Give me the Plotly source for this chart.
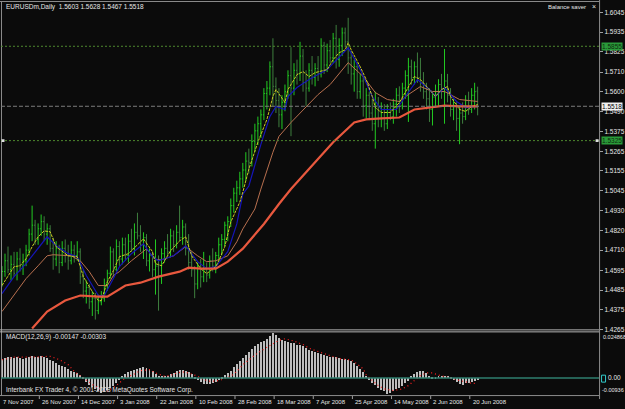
import plotly.graph_objects as go

W, H = 625, 409

# ---------------- price data (EURUSDm, Daily) ----------------
opens = [1.4530,1.4590,1.4650,1.4600,1.4630,1.4580,1.4660,1.4620,1.4650,1.4710,
         1.4800,1.4850,1.4770,1.4830,1.4870,1.4800,1.4830,1.4720,1.4660,1.4720,
         1.4640,1.4720,1.4680,1.4650,1.4710,1.4680,1.4700,1.4560,1.4480,1.4500,
         1.4420,1.4440,1.4370,1.4420,1.4440,1.4520,1.4580,1.4700,1.4600,1.4730,
         1.4660,1.4740,1.4680,1.4760,1.4720,1.4810,1.4790,1.4740,1.4780,1.4650,
         1.4680,1.4600,1.4620,1.4560,1.4690,1.4720,1.4700,1.4790,1.4740,1.4810,
         1.4780,1.4840,1.4720,1.4640,1.4600,1.4520,1.4620,1.4560,1.4600,1.4570,
         1.4650,1.4620,1.4680,1.4740,1.4770,1.4850,1.4870,1.4960,1.5030,1.5060,
         1.5110,1.5160,1.5210,1.5200,1.5320,1.5380,1.5420,1.5470,1.5590,1.5620,
         1.5740,1.5630,1.5550,1.5470,1.5540,1.5600,1.5690,1.5620,1.5720,1.5700,
         1.5800,1.5650,1.5620,1.5720,1.5680,1.5730,1.5700,1.5860,1.5750,1.5830,
         1.5790,1.5900,1.5780,1.5860,1.5930,1.5880,1.5790,1.5700,1.5740,1.5600,
         1.5660,1.5520,1.5580,1.5480,1.5420,1.5520,1.5450,1.5500,1.5420,1.5500,
         1.5460,1.5530,1.5580,1.5520,1.5620,1.5690,1.5740,1.5680,1.5740,1.5680,
         1.5650,1.5600,1.5560,1.5500,1.5570,1.5600,1.5640,1.5600,1.5660,1.5580,
         1.5500,1.5520,1.5450,1.5480,1.5460,1.5550,1.5500,1.5580,1.5603]
highs = [1.4620,1.4690,1.4730,1.4680,1.4700,1.4700,1.4720,1.4690,1.4740,1.4830,
         1.4960,1.4880,1.4860,1.4910,1.4900,1.4860,1.4850,1.4780,1.4760,1.4740,
         1.4760,1.4770,1.4740,1.4760,1.4740,1.4760,1.4720,1.4600,1.4540,1.4520,
         1.4480,1.4470,1.4460,1.4480,1.4550,1.4600,1.4730,1.4720,1.4770,1.4760,
         1.4780,1.4780,1.4800,1.4830,1.4860,1.4920,1.4850,1.4810,1.4800,1.4720,
         1.4700,1.4770,1.4680,1.4720,1.4760,1.4800,1.4830,1.4820,1.4850,1.4960,
         1.4880,1.4860,1.4800,1.4700,1.4620,1.4640,1.4660,1.4700,1.4640,1.4680,
         1.4720,1.4700,1.4780,1.4800,1.4870,1.4900,1.5000,1.5060,1.5100,1.5150,
         1.5200,1.5260,1.5280,1.5360,1.5420,1.5460,1.5500,1.5620,1.5660,1.5770,
         1.5900,1.5680,1.5620,1.5580,1.5640,1.5720,1.5850,1.5760,1.5780,1.5880,
         1.5840,1.5720,1.5760,1.5800,1.5760,1.5800,1.5900,1.5880,1.5870,1.5890,
         1.5930,1.5975,1.5900,1.5960,1.5960,1.6015,1.5830,1.5780,1.5760,1.5700,
         1.5690,1.5620,1.5600,1.5560,1.5600,1.5570,1.5540,1.5530,1.5530,1.5540,
         1.5560,1.5620,1.5630,1.5650,1.5720,1.5790,1.5780,1.5770,1.5820,1.5790,
         1.5710,1.5650,1.5620,1.5600,1.5640,1.5670,1.5700,1.5840,1.5700,1.5620,
         1.5560,1.5540,1.5520,1.5540,1.5580,1.5600,1.5620,1.5650,1.5628]
lows = [1.4505,1.4560,1.4580,1.4540,1.4560,1.4540,1.4590,1.4570,1.4620,1.4680,
        1.4760,1.4740,1.4740,1.4790,1.4760,1.4740,1.4700,1.4600,1.4620,1.4580,
        1.4620,1.4640,1.4600,1.4630,1.4640,1.4650,1.4520,1.4440,1.4410,1.4380,
        1.4340,1.4320,1.4350,1.4400,1.4420,1.4480,1.4550,1.4560,1.4590,1.4620,
        1.4630,1.4650,1.4640,1.4700,1.4680,1.4770,1.4700,1.4660,1.4620,1.4590,
        1.4560,1.4460,1.4370,1.4520,1.4640,1.4680,1.4670,1.4700,1.4720,1.4760,
        1.4740,1.4680,1.4600,1.4560,1.4440,1.4490,1.4500,1.4530,1.4530,1.4550,
        1.4590,1.4580,1.4650,1.4680,1.4730,1.4760,1.4840,1.4920,1.4980,1.5020,
        1.5060,1.5100,1.5140,1.5180,1.5260,1.5300,1.5340,1.5440,1.5500,1.5580,
        1.5520,1.5480,1.5400,1.5390,1.5490,1.5560,1.5350,1.5580,1.5640,1.5660,
        1.5600,1.5520,1.5600,1.5640,1.5630,1.5660,1.5680,1.5700,1.5710,1.5760,
        1.5760,1.5730,1.5740,1.5800,1.5850,1.5700,1.5640,1.5600,1.5560,1.5560,
        1.5460,1.5450,1.5440,1.5380,1.5280,1.5400,1.5400,1.5380,1.5390,1.5440,
        1.5420,1.5460,1.5480,1.5500,1.5560,1.5430,1.5640,1.5640,1.5650,1.5600,
        1.5560,1.5500,1.5430,1.5410,1.5520,1.5520,1.5560,1.5420,1.5540,1.5460,
        1.5440,1.5380,1.5305,1.5420,1.5440,1.5470,1.5480,1.5500,1.5467]
closes = [1.4590,1.4650,1.4600,1.4630,1.4580,1.4660,1.4620,1.4650,1.4710,1.4800,
          1.4850,1.4770,1.4830,1.4870,1.4800,1.4830,1.4720,1.4660,1.4720,1.4640,
          1.4720,1.4680,1.4650,1.4710,1.4680,1.4700,1.4560,1.4480,1.4500,1.4420,
          1.4440,1.4370,1.4420,1.4440,1.4520,1.4580,1.4700,1.4600,1.4730,1.4660,
          1.4740,1.4680,1.4760,1.4720,1.4810,1.4790,1.4740,1.4780,1.4650,1.4680,
          1.4600,1.4620,1.4560,1.4690,1.4720,1.4700,1.4790,1.4740,1.4810,1.4780,
          1.4840,1.4720,1.4640,1.4600,1.4520,1.4620,1.4560,1.4600,1.4570,1.4650,
          1.4620,1.4680,1.4740,1.4770,1.4850,1.4870,1.4960,1.5030,1.5060,1.5110,
          1.5160,1.5210,1.5200,1.5320,1.5380,1.5420,1.5470,1.5590,1.5620,1.5740,
          1.5630,1.5550,1.5470,1.5540,1.5600,1.5690,1.5620,1.5720,1.5700,1.5800,
          1.5650,1.5620,1.5720,1.5680,1.5730,1.5700,1.5860,1.5750,1.5830,1.5790,
          1.5900,1.5780,1.5860,1.5930,1.5880,1.5790,1.5700,1.5740,1.5600,1.5660,
          1.5520,1.5580,1.5480,1.5420,1.5520,1.5450,1.5500,1.5420,1.5500,1.5460,
          1.5530,1.5580,1.5520,1.5620,1.5690,1.5740,1.5680,1.5740,1.5680,1.5650,
          1.5600,1.5560,1.5500,1.5570,1.5600,1.5640,1.5600,1.5660,1.5580,1.5500,
          1.5520,1.5450,1.5480,1.5460,1.5550,1.5500,1.5580,1.5600,1.5518]
bars = list(range(len(closes)))

# ---------------- moving averages (bar index, value) ----------------
yellow_i = [0,2,4,6,8,10,12,14,16,18,20,22,25,27,30,32,33,35,37,39,42,46,47,50,51,53,56,59,61,63,
            66,68,71,72,74,76,79,80,82,85,88,90,91,94,95,98,100,102,104,108,110,112,114,115,116,
            119,121,123,124,126,129,132,135,137,139,142,144,146,148,149,152,154,156,158]
yellow_v = [1.4511,1.4567,1.4617,1.4622,1.4662,1.4729,1.4785,1.4818,1.4813,1.4729,1.4701,1.4678,
            1.4673,1.4561,1.4477,1.4427,1.4427,1.4533,1.4595,1.4673,1.4690,1.4757,1.4773,1.4701,
            1.4634,1.4622,1.4706,1.4762,1.4785,1.4678,1.4606,1.4578,1.4617,1.4650,1.4729,1.4868,
            1.4980,1.5036,1.5165,1.5316,1.5444,1.5573,1.5612,1.5539,1.5612,1.5696,1.5713,1.5685,
            1.5707,1.5724,1.5780,1.5819,1.5835,1.5875,1.5835,1.5740,1.5668,1.5573,1.5511,1.5483,
            1.5483,1.5539,1.5629,1.5685,1.5668,1.5612,1.5573,1.5612,1.5629,1.5573,1.5500,1.5489,
            1.5517,1.5528]

blue_i = [0,4,8,12,15,18,22,25,28,32,34,37,39,43,47,50,52,57,61,65,68,71,75,78,80,82,86,89,91,94,
          95,98,102,108,112,115,119,123,126,131,134,138,142,144,147,151,154,158]
blue_v = [1.4466,1.4561,1.4634,1.4717,1.4785,1.4734,1.4690,1.4673,1.4567,1.4455,1.4455,1.4550,
          1.4617,1.4690,1.4745,1.4673,1.4650,1.4678,1.4734,1.4645,1.4606,1.4617,1.4701,1.4857,
          1.5025,1.5070,1.5304,1.5461,1.5517,1.5500,1.5573,1.5623,1.5668,1.5724,1.5796,1.5847,
          1.5724,1.5573,1.5500,1.5500,1.5573,1.5668,1.5612,1.5573,1.5623,1.5545,1.5511,1.5517]

brown_i = [0,4,8,12,15,17,23,26,29,32,35,37,39,43,48,51,53,57,61,65,68,71,75,78,80,84,86,90,92,96,
           101,105,109,113,115,120,124,128,132,135,139,143,147,152,158]
brown_v = [1.4365,1.4455,1.4550,1.4622,1.4678,1.4684,1.4678,1.4650,1.4589,1.4511,1.4511,1.4567,
           1.4589,1.4650,1.4717,1.4656,1.4656,1.4678,1.4729,1.4678,1.4645,1.4650,1.4678,1.4757,
           1.4829,1.4941,1.5053,1.5260,1.5349,1.5427,1.5517,1.5584,1.5640,1.5724,1.5763,1.5685,
           1.5595,1.5556,1.5545,1.5584,1.5629,1.5601,1.5601,1.5556,1.5545]

red_i = [10,15,21,26,32,35,41,46,52,59,62,66,71,75,80,87,92,96,104,110,117,121,126,132,137,143,147,152,158]
red_v = [1.4270,1.4365,1.4427,1.4455,1.4449,1.4449,1.4511,1.4527,1.4561,1.4589,1.4611,1.4606,
         1.4606,1.4645,1.4718,1.4857,1.4969,1.5053,1.5204,1.5316,1.5427,1.5444,1.5450,1.5455,
         1.5500,1.5511,1.5522,1.5517,1.5517]

# ---------------- MACD(12,26,9) ----------------
macd_hist = [0.0100,0.0108,0.0110,0.0112,0.0108,0.0110,0.0106,0.0104,0.0106,0.0110,
             0.0115,0.0113,0.0114,0.0116,0.0112,0.0108,0.0098,0.0088,0.0082,0.0070,
             0.0064,0.0055,0.0045,0.0038,0.0030,0.0024,0.0012,-0.0010,-0.0022,-0.0038,
             -0.0050,-0.0064,-0.0074,-0.0086,-0.0080,-0.0070,-0.0058,-0.0044,-0.0028,-0.0012,
             0.0008,0.0018,0.0028,0.0034,0.0040,0.0046,0.0050,0.0056,0.0054,0.0046,
             0.0036,0.0022,0.0008,0.0004,0.0006,0.0010,0.0018,0.0026,0.0034,0.0040,
             0.0042,0.0038,0.0030,0.0018,-0.0006,-0.0016,-0.0026,-0.0034,-0.0036,-0.0034,
             -0.0030,-0.0024,-0.0016,-0.0004,0.0012,0.0024,0.0038,0.0055,0.0072,0.0090,
             0.0108,0.0125,0.0140,0.0158,0.0172,0.0182,0.0192,0.0202,0.0212,0.0228,
             0.0244,0.0230,0.0214,0.0204,0.0198,0.0196,0.0190,0.0186,0.0180,0.0176,
             0.0172,0.0160,0.0152,0.0146,0.0140,0.0134,0.0130,0.0124,0.0118,0.0114,
             0.0112,0.0110,0.0106,0.0102,0.0100,0.0096,0.0090,0.0078,0.0064,0.0046,
             0.0028,0.0010,-0.0012,-0.0028,-0.0042,-0.0056,-0.0066,-0.0076,-0.0090,-0.0082,
             -0.0072,-0.0064,-0.0056,-0.0044,-0.0030,-0.0018,0.0004,0.0018,0.0030,0.0036,
             0.0034,0.0024,0.0010,-0.0006,-0.0010,0.0004,0.0008,0.0010,0.0004,-0.0008,
             -0.0016,-0.0026,-0.0036,-0.0038,-0.0032,-0.0030,-0.0024,-0.0018,-0.00147]
signal_i = [0,4,9,13,16,19,22,24,27,30,33,35,37,39,41,44,46,49,51,54,56,58,60,62,65,67,69,71,73,
            76,78,80,82,84,87,90,92,94,97,100,102,106,109,112,116,118,120,121,123,125,127,130,133,
            135,137,139,141,143,145,147,150,152,154,156,158]
signal_v = [0.0099,0.0113,0.0113,0.0115,0.0118,0.0100,0.0072,0.0036,0.0000,-0.0036,-0.0063,
            -0.0072,-0.0054,-0.0027,0.0000,0.0022,0.0040,0.0045,0.0027,0.0009,0.0014,0.0027,
            0.0033,0.0027,0.0009,-0.0009,-0.0018,-0.0018,-0.0009,0.0009,0.0036,0.0072,0.0100,
            0.0125,0.0157,0.0184,0.0205,0.0214,0.0201,0.0182,0.0162,0.0138,0.0120,0.0105,0.0098,
            0.0076,0.0049,0.0016,-0.0014,-0.0042,-0.0060,-0.0069,-0.0060,-0.0042,-0.0014,0.0013,
            0.0027,0.0027,0.0016,0.0009,-0.0005,-0.0014,-0.0023,-0.0029,-0.00303]

# ---------------- axis labels / levels ----------------
price_ticks = [1.6045,1.5935,1.5825,1.5710,1.5600,1.5490,1.5375,1.5265,1.5155,1.5045,
               1.4930,1.4820,1.4710,1.4595,1.4485,1.4375,1.4265]
date_pos = [0,13,26,39,52,65,78,91,104,117,130,143,156]
date_text = ["7 Nov 2007","26 Nov 2007","14 Dec 2007","3 Jan 2008","22 Jan 2008","10 Feb 2008",
             "28 Feb 2008","18 Mar 2008","7 Apr 2008","25 Apr 2008","14 May 2008","2 Jun 2008",
             "20 Jun 2008"]
level_upper = 1.5855
level_lower = 1.5325
bid_price = 1.5518
macd_max = 0.024868
macd_min = -0.00936

# ---------------- layout geometry (pixels) ----------------
X_LEFT, X_RIGHT = 1, 601
MAIN_TOP, MAIN_BOT = 2, 332
SUB_TOP, SUB_BOT = 334, 397


def py(p):
    return (H - p) / H


def px(p):
    return p / W


FONT = "Liberation Sans"
TXT = "#e6e6e6"

fig = go.Figure()
fig.add_trace(go.Ohlc(x=bars, open=opens, high=highs, low=lows, close=closes,
                      increasing=dict(line=dict(color="#22cc22", width=1)),
                      decreasing=dict(line=dict(color="#3f7f3f", width=1)),
                      tickwidth=0.35, xaxis="x", yaxis="y", showlegend=False,
                      hoverinfo="skip"))
fig.add_trace(go.Scatter(x=brown_i, y=brown_v, mode="lines", xaxis="x", yaxis="y",
                         line=dict(color="#b8704f", width=1), showlegend=False, hoverinfo="skip"))
fig.add_trace(go.Scatter(x=blue_i, y=blue_v, mode="lines", xaxis="x", yaxis="y",
                         line=dict(color="#1515b8", width=1.2), showlegend=False, hoverinfo="skip"))
fig.add_trace(go.Scatter(x=yellow_i, y=yellow_v, mode="lines", xaxis="x", yaxis="y",
                         line=dict(color="#cccc22", width=1, dash="3px,1px"), showlegend=False,
                         hoverinfo="skip"))
fig.add_trace(go.Scatter(x=red_i, y=red_v, mode="lines", xaxis="x", yaxis="y",
                         line=dict(color="#e8583e", width=2.2), showlegend=False, hoverinfo="skip"))

fig.add_trace(go.Bar(x=bars, y=macd_hist, xaxis="x2", yaxis="y2", width=0.33,
                     marker=dict(color="#bdbdbd", line=dict(width=0)), showlegend=False,
                     hoverinfo="skip"))
fig.add_trace(go.Scatter(x=signal_i, y=signal_v, mode="lines", xaxis="x2", yaxis="y2",
                         line=dict(color="#ff2020", width=1.2, dash="1px,3px"), showlegend=False,
                         hoverinfo="skip"))

xr = [-0.33, 198.34]
main_dom = [py(MAIN_BOT), py(MAIN_TOP)]
sub_dom = [py(SUB_BOT), py(SUB_TOP)]
y_top = 1.6115 - 0.000559 * MAIN_TOP
y_bot = 1.6115 - 0.000559 * MAIN_BOT

fig.update_layout(
    width=W, height=H, margin=dict(l=0, r=0, t=0, b=0),
    paper_bgcolor="#0b0b0b", plot_bgcolor="#0b0b0b",
    showlegend=False, bargap=0,
    xaxis=dict(domain=[px(X_LEFT), px(X_RIGHT)], range=xr, anchor="y", showgrid=False,
               zeroline=False, showticklabels=False, rangeslider=dict(visible=False)),
    xaxis2=dict(domain=[px(X_LEFT), px(X_RIGHT)], range=xr, anchor="y2", matches="x",
                showgrid=False, zeroline=False, showticklabels=False),
    yaxis=dict(domain=main_dom, range=[y_bot, y_top], side="right", anchor="x",
               tickvals=price_ticks, ticktext=[f"{v:.4f}" for v in price_ticks],
               tickfont=dict(family=FONT, size=6.5, color=TXT), ticks="outside", ticklen=3,
               tickcolor="#a0a0a0", showgrid=False, zeroline=False, showline=False),
    yaxis2=dict(domain=sub_dom, range=[macd_min, macd_max], side="right", anchor="x2",
                showticklabels=False, showgrid=False, zeroline=False, showline=False),
)

shapes = []
LC = "#8c8c8c"
# frame
shapes.append(dict(type="line", xref="paper", yref="paper", x0=0, x1=px(X_RIGHT),
                   y0=py(1.5), y1=py(1.5), line=dict(color=LC, width=1)))
shapes.append(dict(type="line", xref="paper", yref="paper", x0=px(1.5), x1=px(1.5),
                   y0=py(1.5), y1=py(SUB_BOT + 0.5), line=dict(color=LC, width=1)))
shapes.append(dict(type="line", xref="paper", yref="paper", x0=px(X_RIGHT + 0.5), x1=px(X_RIGHT + 0.5),
                   y0=py(0), y1=py(SUB_BOT + 4), line=dict(color=LC, width=1)))
for yy in (MAIN_BOT - 0.5, MAIN_BOT + 1.5):
    shapes.append(dict(type="line", xref="paper", yref="paper", x0=0, x1=px(X_RIGHT),
                       y0=py(yy), y1=py(yy), line=dict(color="#b4b4b4", width=1)))
shapes.append(dict(type="line", xref="paper", yref="paper", x0=0, x1=px(X_RIGHT),
                   y0=py(SUB_BOT + 0.5), y1=py(SUB_BOT + 0.5), line=dict(color=LC, width=1)))
# horizontal levels
shapes.append(dict(type="line", xref="paper", yref="y", x0=px(X_LEFT), x1=px(X_RIGHT),
                   y0=level_upper, y1=level_upper, line=dict(color="#4f8a2f", width=1, dash="2px,2px")))
shapes.append(dict(type="line", xref="paper", yref="y", x0=px(X_LEFT), x1=px(X_RIGHT),
                   y0=level_lower, y1=level_lower, line=dict(color="#4f8a2f", width=1, dash="2px,2px")))
shapes.append(dict(type="line", xref="paper", yref="y", x0=px(X_LEFT), x1=px(X_RIGHT),
                   y0=bid_price, y1=bid_price, line=dict(color="#7c7c7c", width=1, dash="4px,2px")))
# MACD zero line
shapes.append(dict(type="line", xref="paper", yref="y2", x0=px(X_LEFT), x1=px(X_RIGHT),
                   y0=0, y1=0, line=dict(color="#2f7f6f", width=1.5)))
# small markers on lower level
for xx in (3, 599):
    shapes.append(dict(type="rect", xref="paper", yref="y", x0=px(xx - 1.5), x1=px(xx + 1.5),
                       y0=level_lower - 0.0008, y1=level_lower + 0.0008,
                       fillcolor="#e0e0e0", line=dict(width=0)))
# date tick marks
for d in date_pos:
    shapes.append(dict(type="line", xref="x2", yref="paper", x0=d - 0.6, x1=d - 0.6,
                       y0=py(SUB_BOT + 1), y1=py(SUB_BOT + 4), line=dict(color="#a0a0a0", width=1)))
# cyan marker box in MACD axis
shapes.append(dict(type="rect", xref="paper", yref="paper", x0=px(603.5), x1=px(607.5),
                   y0=py(384), y1=py(377), line=dict(color="#33cccc", width=1)))

ann = []
ann.append(dict(text="EURUSDm,Daily  1.5603 1.5628 1.5467 1.5518", xref="paper", yref="paper",
                x=px(4), y=py(7), xanchor="left", yanchor="middle", showarrow=False,
                font=dict(family=FONT, size=6.5, color=TXT)))
ann.append(dict(text="Balance saver", xref="paper", yref="paper", x=px(590), y=py(7),
                xanchor="right", yanchor="middle", showarrow=False,
                font=dict(family=FONT, size=6, color=TXT)))
ann.append(dict(text="×", xref="paper", yref="paper", x=px(596), y=py(7),
                xanchor="center", yanchor="middle", showarrow=False,
                font=dict(family=FONT, size=7, color=TXT)))
ann.append(dict(text="MACD(12,26,9) -0.00147 -0.00303", xref="paper", yref="paper",
                x=px(4), y=py(339), xanchor="left", yanchor="middle", showarrow=False,
                font=dict(family=FONT, size=6.5, color=TXT)))
ann.append(dict(text="Interbank FX Trader 4, © 2001-2008 MetaQuotes Software Corp.", xref="paper",
                yref="paper", x=px(4), y=py(392), xanchor="left", yanchor="middle",
                showarrow=False, font=dict(family=FONT, size=6.5, color=TXT)))
for d, t in zip(date_pos, date_text):
    ann.append(dict(text=t, xref="x2", yref="paper", x=d, y=py(404), xanchor="left",
                    yanchor="middle", xshift=-1, showarrow=False,
                    font=dict(family=FONT, size=6, color=TXT)))
# price level labels
for val, bg, fg in ((level_upper, "#2a9a3a", "#0c2c0c"), (level_lower, "#2a9a3a", "#0c2c0c"),
                    (bid_price, "#f0f0f0", "#000000")):
    ann.append(dict(text=f"{val:.4f}", xref="paper", yref="y", x=px(603), y=val,
                    xanchor="left", yanchor="middle", showarrow=False, bgcolor=bg, borderpad=0,
                    font=dict(family=FONT, size=6.5, color=fg)))
# MACD axis labels
ann.append(dict(text=f"{macd_max:.6f}", xref="paper", yref="y2", x=px(603), y=macd_max,
                xanchor="left", yanchor="top", showarrow=False,
                font=dict(family=FONT, size=5.5, color=TXT)))
ann.append(dict(text="0.00", xref="paper", yref="y2", x=px(608), y=0, xanchor="left",
                yanchor="middle", showarrow=False, font=dict(family=FONT, size=6.5, color=TXT)))
ann.append(dict(text=f"{macd_min:.5f}", xref="paper", yref="y2", x=px(602), y=macd_min,
                xanchor="left", yanchor="bottom", showarrow=False,
                font=dict(family=FONT, size=5.5, color=TXT)))

fig.update_layout(shapes=shapes, annotations=ann)
fig.write_html("out.html", config={"displayModeBar": False})
